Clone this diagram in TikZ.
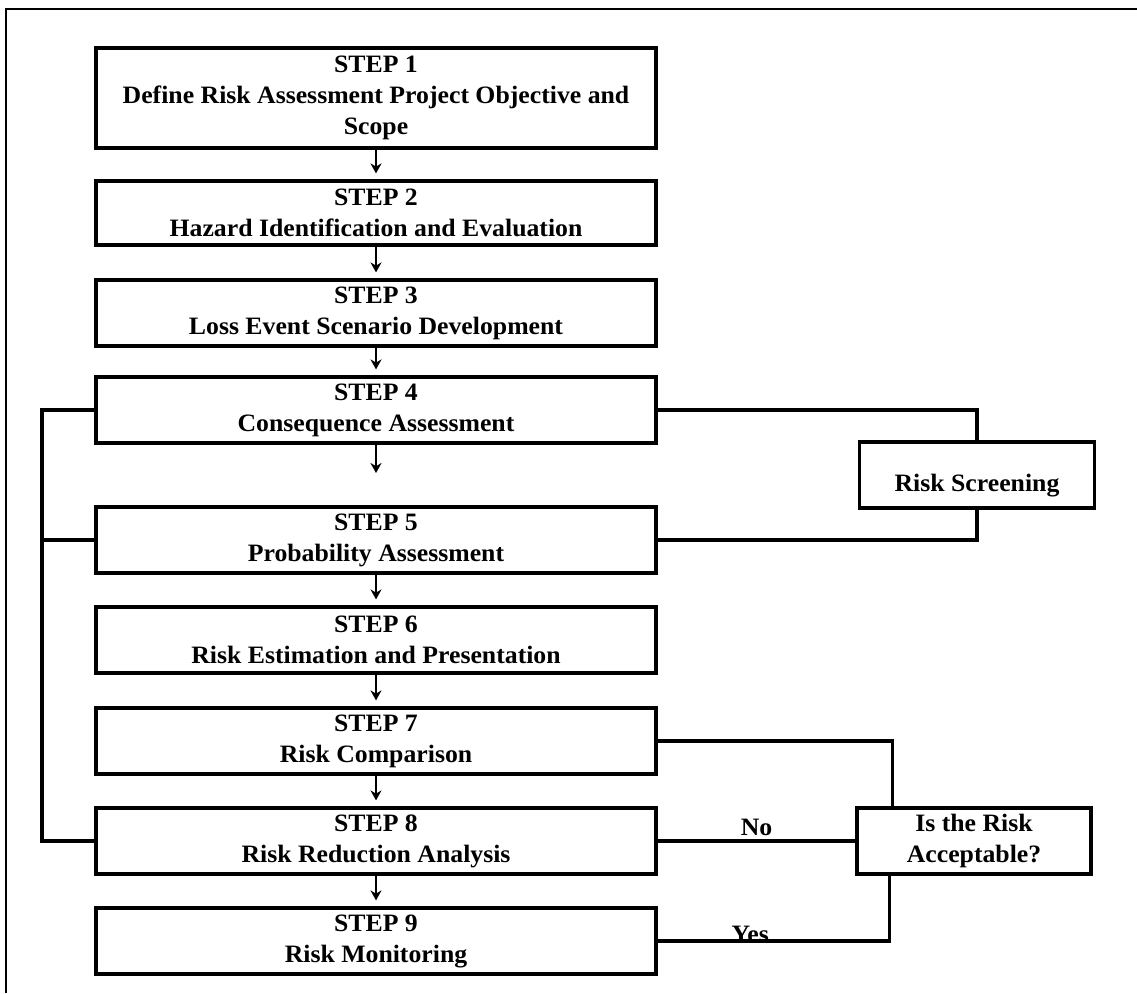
\documentclass[tikz,border=0pt]{standalone}
\usepackage{fontspec}
\setmainfont{Liberation Serif}[FakeStretch=1.03]
\usetikzlibrary{arrows.meta}

\begin{document}
\begin{tikzpicture}
            [x=1pt, y=-1pt, font=\fontsize{25}{31}\selectfont\bfseries,
            stepbox/.style={draw=black, line width=3.2pt, align=center,
                minimum width=560pt, minimum height=66pt, inner sep=2pt},
            sidebox/.style={draw=black, line width=3.2pt, align=center,
                minimum width=234pt, minimum height=66pt, inner sep=2pt},
            link/.style={draw=black, line width=3.2pt},
            flow/.style={draw=black, line width=2pt, shorten >=6pt,
                -{Stealth[length=10pt, width=11pt]}}]
            \useasboundingbox (0,0) rectangle (1137,993);
            % page frame
            \draw [line width=1.8pt] (6,993) -- (6,9) -- (1137,9);
            % main column
            \node [stepbox, minimum height=100pt] (step1) at (376,98) {STEP 1\\Define Risk Assessment Project Objective and\\Scope};
            \node [stepbox, minimum height=64pt] (step2) at (376,213) {STEP 2\\Hazard Identification and Evaluation};
            \node [stepbox] (step3) at (376,313) {STEP 3\\Loss Event Scenario Development};
            \node [stepbox] (step4) at (376,410) {STEP 4\\Consequence Assessment};
            \node [stepbox] (step5) at (376,540) {STEP 5\\Probability Assessment};
            \node [stepbox] (step6) at (376,640) {STEP 6\\Risk Estimation and Presentation};
            \node [stepbox] (step7) at (376,741) {STEP 7\\Risk Comparison};
            \node [stepbox] (step8) at (376,841) {STEP 8\\Risk Reduction Analysis};
            \node [stepbox] (step9) at (376,941) {STEP 9\\Risk Monitoring};
            % side boxes
            \node [sidebox, minimum width=235pt, text height=38pt, text depth=6pt] (screen) at (977,475) {Risk Screening};
            \node [sidebox] (accept) at (974,841) {Is the Risk\\Acceptable?};
            \coordinate (gap45) at (376,473);
            \coordinate (loop) at (42,0);
            % arrows down the column
            \draw [flow] (step1) -- (step2);
            \draw [flow] (step2) -- (step3);
            \draw [flow] (step3) -- (step4);
            \draw [flow, shorten >=0pt] (step4) -- (gap45);
            \draw [flow] (step5) -- (step6);
            \draw [flow] (step6) -- (step7);
            \draw [flow] (step7) -- (step8);
            \draw [flow] (step8) -- (step9);
            % feedback loop on the left
            \draw [link] (step4.west) -- (step4.west -| loop) -- (step8.west -| loop) -- (step8.west);
            \draw [link] (step5.west -| loop) -- (step5.west);
            % screening and acceptance
            \draw [link] (step4.east) -| (screen.north);
            \draw [link] (step5.east) -| (screen.south);
            \draw [link] (step7.east) -| ([xshift=37pt]accept.north west);
            \draw [link] (step8.east) -- node [anchor=base, yshift=6pt] {No} (accept.west);
            \draw [link] (step9.east) -| node [pos=0.2, anchor=base, yshift=-1pt] {Yes} ([xshift=34pt]accept.south west);
\end{tikzpicture}
\end{document}
